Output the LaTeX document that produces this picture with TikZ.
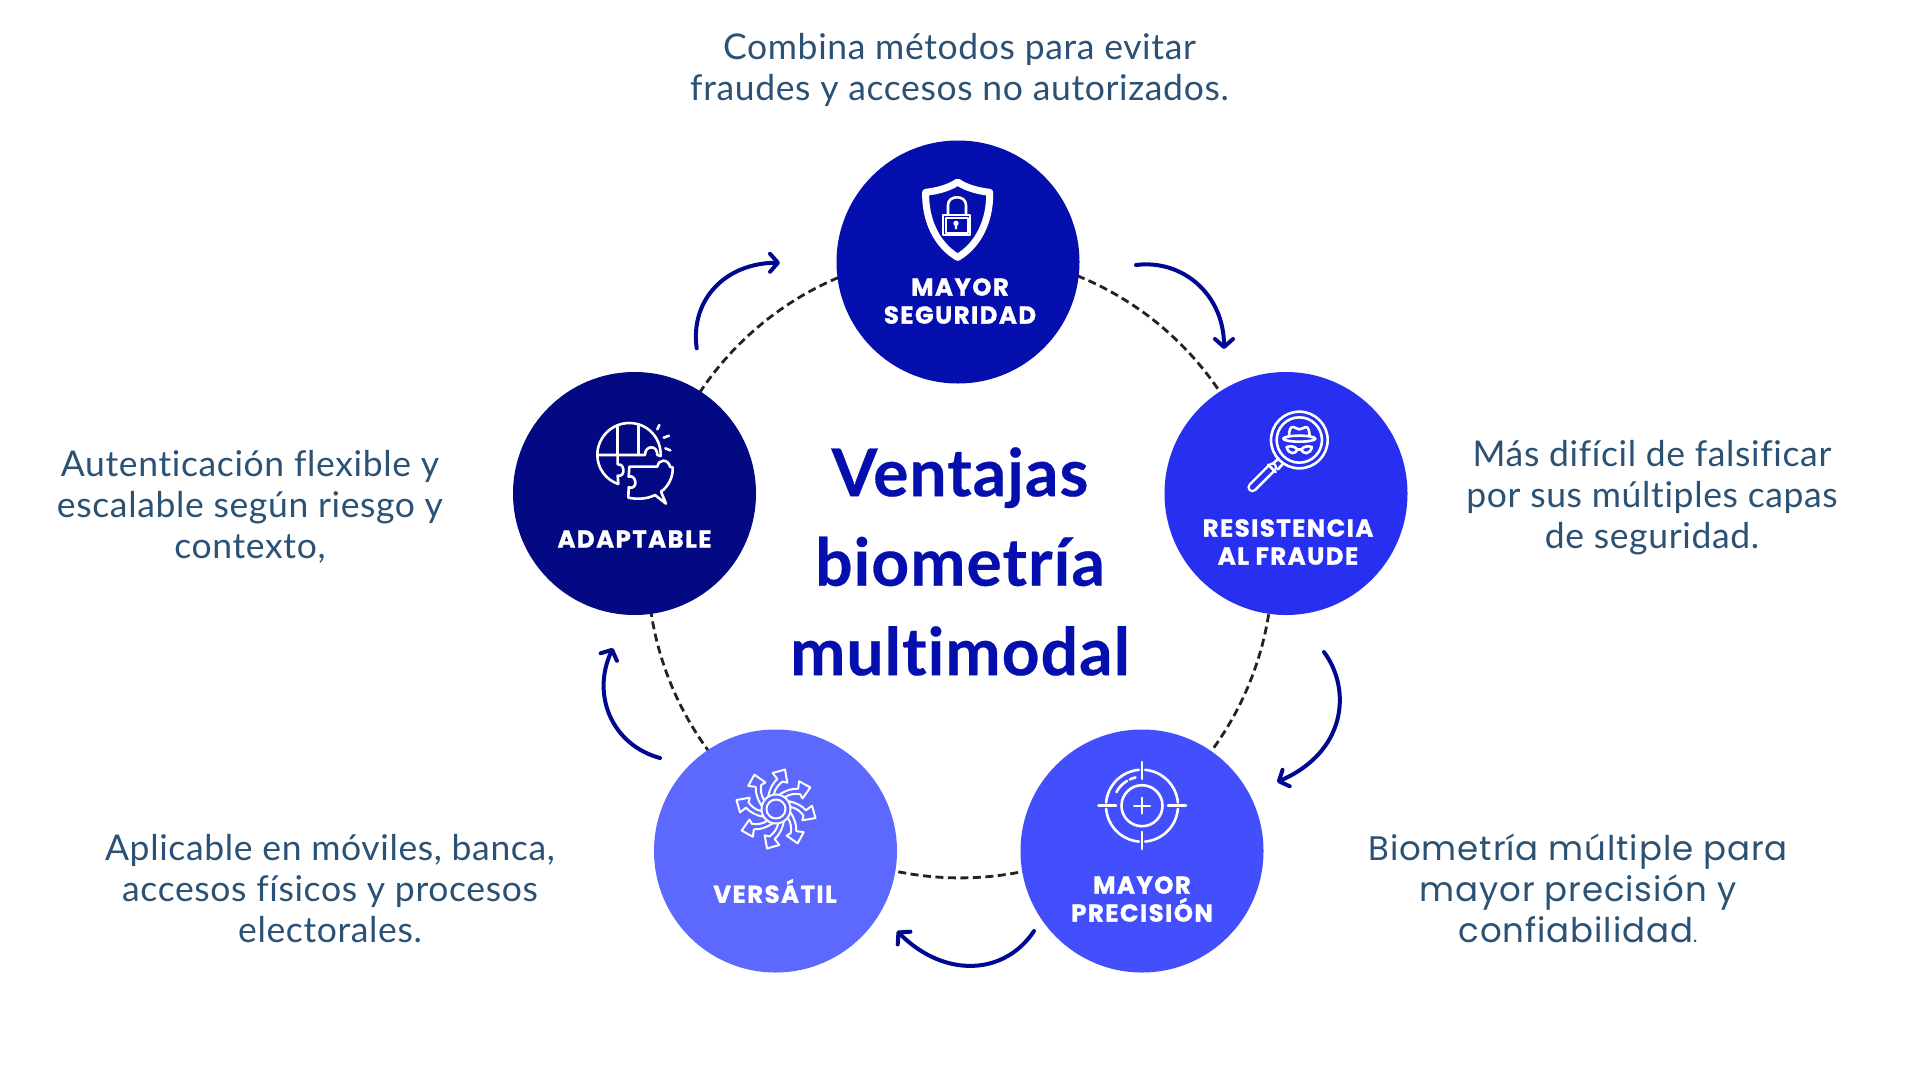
\documentclass[tikz,border=0pt]{standalone}
\usepackage{fontspec}
\setmainfont[LetterSpace=1.8,Ligatures={NoCommon}]{Lato}
\newfontfamily\titlefont[LetterSpace=1.5,Ligatures={NoCommon},BoldFeatures={FakeBold=0.4}]{Lato}
\newfontfamily\labelfont[BoldFeatures={FakeBold=1.2},LetterSpace=6]{Poppins}
\newfontfamily\widefont[LetterSpace=2.6]{Poppins}
\usetikzlibrary{arrows.meta,calc}
\definecolor{cA}{HTML}{050FAD}
\definecolor{cB}{HTML}{2730F0}
\definecolor{cC}{HTML}{434FFD}
\definecolor{cD}{HTML}{5D68FF}
\definecolor{cE}{HTML}{030883}
\definecolor{bodytxt}{HTML}{2B5275}
\definecolor{arrowc}{HTML}{00088F}
\definecolor{ringc}{HTML}{222222}
\tikzset{
  bubble/.style={circle,minimum size=243pt,inner sep=0pt,outer sep=0pt},
  ringarc/.style={ringc,line width=2.8pt,dash pattern=on 8pt off 4.5pt},
  flow/.style={arrowc,line width=4pt,line cap=round,line join=round,-{Straight Barb[length=8pt,width=18pt,round,line width=4pt]}},
  lbl/.style={text=white,align=center,font=\labelfont\bfseries\fontsize{24.4}{28}\selectfont,inner sep=0pt},
  body/.style={text=bodytxt,align=center,font=\fontsize{35.5}{41}\selectfont,inner sep=0pt},
  ico/.style={draw=white,line width=2.6pt,line cap=round,line join=round},
  icothin/.style={draw=white,line width=2pt,line cap=round,line join=round}
}
\begin{document}
\begin{tikzpicture}[x=1pt,y=-1pt]
\useasboundingbox (0,0) rectangle (1920,1080);
\fill[white] (0,0) rectangle (1920,1080);
\coordinate (ring) at (960,565.4);
% ring arcs
\coordinate (a1) at ($(ring)+(68:312.5pt)$);
\coordinate (a2) at ($(ring)+(-9:312.5pt)$);
\coordinate (a3) at ($(ring)+(-77:312.5pt)$);
\coordinate (a4) at ($(ring)+(-143:312.5pt)$);
\coordinate (a5) at ($(ring)+(146.5:312.5pt)$);
\draw[ringarc] (a1) arc[start angle=68,end angle=33,radius=312.5pt];
\draw[ringarc] (a2) arc[start angle=-9,end angle=-36.5,radius=312.5pt];
\draw[ringarc] (a3) arc[start angle=-77,end angle=-103,radius=312.5pt];
\draw[ringarc] (a4) arc[start angle=-143,end angle=-172,radius=312.5pt];
\draw[ringarc] (a5) arc[start angle=146.5,end angle=112,radius=312.5pt];
% bubbles
\node[bubble,fill=cA] (n1) at (958,262) {};
\node[bubble,fill=cB] (n2) at (1286,493.5) {};
\node[bubble,fill=cC] (n3) at (1142,851) {};
\node[bubble,fill=cD] (n4) at (775.5,851) {};
\node[bubble,fill=cE] (n5) at (634.5,493.5) {};
% flow arrows
\coordinate (f1a) at (1136,265); \coordinate (f1b) at (1224,349);
\coordinate (f2a) at (1324,652); \coordinate (f2b) at (1277,782);
\coordinate (f3a) at (1034,931); \coordinate (f3b) at (897,931);
\coordinate (f4a) at (660,758); \coordinate (f4b) at (613,648);
\coordinate (f5a) at (696.7,348.3); \coordinate (f5b) at (780,262.7);
\draw[flow] (f1a) .. controls (1183,259) and (1224,295) .. (f1b);
\draw[flow] (f2a) .. controls (1352,690) and (1346,752) .. (f2b);
\draw[flow] (f3a) .. controls (1005,975) and (945,979) .. (f3b);
\draw[flow] (f4a) .. controls (612,745) and (591,695) .. (f4b);
\draw[flow] (f5a) .. controls (690,300) and (725,263) .. (f5b);
% labels
\node[lbl] (l1) at (960,301) {MAYOR\\SEGURIDAD};
\node[lbl] (l2) at (1288,542) {RESISTENCIA\\AL FRAUDE};
\node[lbl] (l3) at (1142,899) {MAYOR\\PRECISIÓN};
\node[lbl] (l4) at (775,891) {VERSÁTIL};
\node[lbl] (l5) at (634.5,539) {ADAPTABLE};
% title
\node[text=cA,align=center,font=\titlefont\bfseries\fontsize{66}{89.5}\selectfont,inner sep=0pt] (title) at (960,561.5) {Ventajas\\biometría\\multimodal};
% descriptions
\node[body] (d1) at (959.5,70) {Combina métodos para evitar\\fraudes y accesos no autorizados.};
\node[body] (d2) at (1652,498) {Más difícil de falsificar\\por sus múltiples capas\\de seguridad.};
\node[body,font=\widefont\fontsize{34}{41}\selectfont] (d3) at (1578,888) {Biometría múltiple para\\mayor precisión y\\confiabilidad{\fontsize{20}{20}\selectfont.}};
\node[body] (d4) at (330,889) {Aplicable en móviles, banca,\\accesos físicos y procesos\\electorales.};
\node[body] (d5) at (250,507) {Autenticación flexible y\\escalable según riesgo y\\contexto,};

% shield icon
\begin{scope}[shift={(840,140)},scale=0.33333]
\draw[draw=white,line width=7pt,line join=round] (353,126) .. controls (325,145) and (290,153) .. (257,157) .. controls (255,240) and (290,315) .. (353,352) .. controls (416,315) and (451,240) .. (449,157) .. controls (416,153) and (381,145) .. (353,126) -- cycle;
\draw[ico] (324,222) -- (324,195) .. controls (324,164) and (378,164) .. (378,195) -- (378,222);
\draw[icothin] (308,226) rectangle (391,286);
\draw[icothin] (317,233) rectangle (383,278);
\fill[white] (348,250) circle[radius=8];
\fill[white] (344,250) -- (352,250) -- (351,267) -- (345,267) -- cycle;
\end{scope}

% magnifier icon
\begin{scope}[shift={(1240,390)},scale=0.33333]
\draw[ico] (178,150) circle[radius=85];
\draw[ico] (178,150) circle[radius=68];
\draw[white,line width=10pt,line cap=round] (97,232) -- (37,292);
\draw[cB,line width=5pt,line cap=round] (97,232) -- (37,292);
\draw[ico] (84,224) -- (107,246);
\draw[ico] (115,206) -- (98,222);
\draw[ico] (130,220) -- (114,238);
\draw[ico] (178,146) ellipse[x radius=48,y radius=9];
\draw[ico] (147,138) .. controls (148,120) and (150,110) .. (160,111) .. controls (167,112) and (172,118) .. (178,118) .. controls (186,118) and (190,112) .. (197,111) .. controls (206,110) and (208,125) .. (209,138);
\draw[ico] (140,171) .. controls (152,166) and (168,170) .. (172,179) .. controls (168,192) and (146,196) .. (140,171) -- cycle;
\draw[ico] (216,171) .. controls (204,166) and (188,170) .. (184,179) .. controls (188,192) and (210,196) .. (216,171) -- cycle;
\draw[ico] (172,179) -- (184,179);
\end{scope}

% target icon
\coordinate (tc) at (1142,805.7);
\draw[ico] ($(tc)+(5:36pt)$) arc[start angle=5,end angle=85,radius=36pt];
\draw[ico] ($(tc)+(95:36pt)$) arc[start angle=95,end angle=175,radius=36pt];
\draw[ico] ($(tc)+(185:36pt)$) arc[start angle=185,end angle=265,radius=36pt];
\draw[ico] ($(tc)+(275:36pt)$) arc[start angle=275,end angle=355,radius=36pt];
\draw[ico] (tc) circle[radius=20.5pt];
\draw[ico] ($(tc)+(152:29pt)$) arc[start angle=152,end angle=121,radius=29pt];
\draw[ico] ($(tc)+(115:29pt)$) arc[start angle=115,end angle=103,radius=29pt];
\draw[ico] (1142,762) -- (1142,779);
\draw[ico] (1142,832) -- (1142,849);
\draw[ico] (1098.5,805.7) -- (1116,805.7);
\draw[ico] (1168,805.7) -- (1186,805.7);
\draw[icothin] (1134,805.7) -- (1150,805.7);
\draw[icothin] (1142,797.7) -- (1142,813.7);

% pinwheel icon
\draw[icothin] (776,809) circle[radius=9.5pt];
\draw[icothin] (776,809) circle[radius=14.5pt];
\foreach \a in {0,45,...,315}{
\begin{scope}[shift={(776,809)},rotate=\a]
\draw[icothin] (-7.7,-13) .. controls (-6,-21) and (-3,-26) .. (1.3,-30) -- (-3.3,-36) -- (9,-39.5) -- (11.3,-26.3) -- (6.5,-27.5) .. controls (2,-24) and (-1,-20) .. (-2,-15);
\end{scope}
}

% puzzle icon
\begin{scope}[shift={(570,410)},scale=0.33333]
\draw[ico] (272,138) .. controls (274,82) and (231,39) .. (178,39) .. controls (125,39) and (82,82) .. (82,135) .. controls (82,175) and (108,210) .. (145,222) -- (143,197) .. controls (155,200) and (162,190) .. (160,178) .. controls (158,166) and (150,160) .. (143,163) -- (143,135);
\draw[ico] (82,135) -- (225,135) .. controls (225,118) and (235,112) .. (245,112) .. controls (255,112) and (262,122) .. (262,135) -- (272,138);
\draw[ico] (143,135) -- (143,50);
\draw[ico] (205,135) -- (205,46);
\draw[ico] (178,170) -- (262,170) .. controls (264,158) and (272,152) .. (280,152) .. controls (290,152) and (298,160) .. (300,170) -- (308,172) .. controls (310,200) and (295,230) .. (273,245) -- (288,281) -- (255,255) .. controls (230,268) and (200,268) .. (175,263) -- (176,232) .. controls (190,238) and (198,225) .. (196,215) .. controls (194,203) and (185,196) .. (176,200) -- (178,170);
\draw[ico] (268,45) -- (262,58);
\draw[ico] (297,77) -- (281,83);
\draw[ico] (301,121) -- (286,115);
\end{scope}
\end{tikzpicture}
\end{document}
